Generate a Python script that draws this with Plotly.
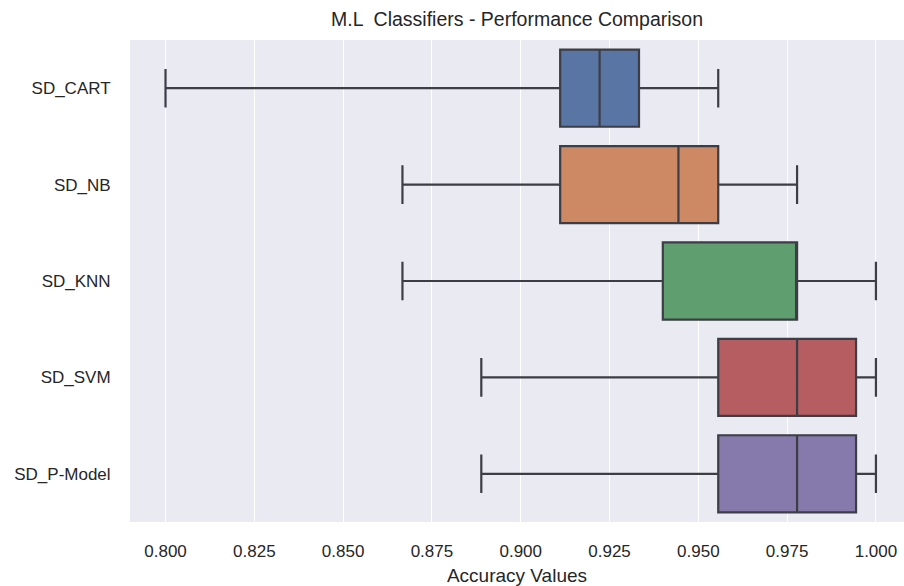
import plotly.graph_objects as go

# Data
categories = ["SD_CART", "SD_NB", "SD_KNN", "SD_SVM", "SD_P-Model"]
q1_vals = [0.9111, 0.9111, 0.9400, 0.9556, 0.9556]
median_vals = [0.9222, 0.9444, 0.9778, 0.9778, 0.9778]
q3_vals = [0.9333, 0.9556, 0.9778, 0.9944, 0.9944]
lower_vals = [0.8000, 0.8667, 0.8667, 0.8889, 0.8889]
upper_vals = [0.9556, 0.9778, 1.0000, 1.0000, 1.0000]
colors = ["#5975a4", "#cc8963", "#5f9e6e", "#b55d60", "#857aab"]
tick_vals = [0.800, 0.825, 0.850, 0.875, 0.900, 0.925, 0.950, 0.975, 1.000]

FONT = "Liberation Sans, Arial, sans-serif"
LINE = "#3d3d46"

fig = go.Figure()
for cat, q1, med, q3, lo, hi, col in zip(categories, q1_vals, median_vals,
                                          q3_vals, lower_vals, upper_vals, colors):
    fig.add_trace(go.Box(
        y=[cat], q1=[q1], median=[med], q3=[q3],
        lowerfence=[lo], upperfence=[hi],
        orientation="h", name=cat, width=0.8, whiskerwidth=0.5,
        fillcolor=col, line=dict(color=LINE, width=2.2),
        boxpoints=False, showlegend=False, hoverinfo="skip",
    ))

fig.update_layout(
    width=904, height=586,
    margin=dict(l=130, r=0, t=40, b=64),
    paper_bgcolor="white", plot_bgcolor="#EAEAF2",
    boxmode="overlay",
    font=dict(family=FONT, color="#262626"),
    title=dict(text="M.L  Classifiers - Performance Comparison",
               x=(130 + 904) / 2 / 904, xanchor="center",
               y=1 - 19 / 586, yanchor="middle", yref="container",
               font=dict(size=19.5, color="#262626", family=FONT)),
)
fig.update_xaxes(
    range=[0.79, 1.0079], tickvals=tick_vals, tickformat=".3f",
    showgrid=True, gridcolor="white", gridwidth=1.3, zeroline=False,
    showline=False, ticks="outside", ticklen=14, tickcolor="rgba(0,0,0,0)",
    tickfont=dict(size=17, color="#262626"),
    title=dict(text="Accuracy Values", font=dict(size=19, color="#262626"), standoff=8),
    automargin=False,
)
fig.update_yaxes(
    type="category", categoryorder="array", categoryarray=categories,
    range=[4.5, -0.5], showgrid=False, zeroline=False, showline=False,
    ticks="outside", ticklen=15, tickcolor="rgba(0,0,0,0)",
    tickfont=dict(size=17, color="#262626"), automargin=False,
)

fig.write_html("out.html")
